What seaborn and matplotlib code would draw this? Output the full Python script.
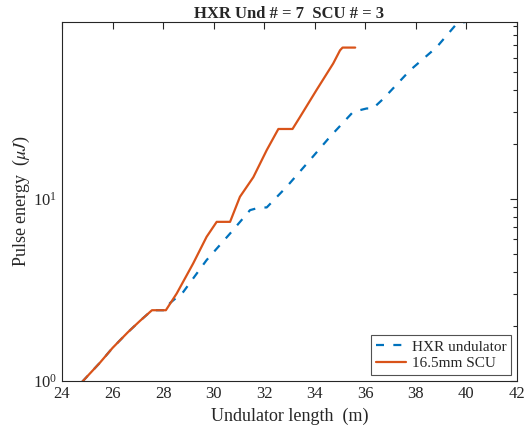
import numpy as np
import pandas as pd
import matplotlib
matplotlib.use("Agg")
import matplotlib.pyplot as plt
import seaborn as sns

# values
hxr_x = [24.8, 25.5, 26.0, 26.6, 27.1, 27.56, 28.11, 28.27, 28.8, 29.72, 30.65,
         31.44, 31.83, 32.1, 32.89, 33.81, 34.6, 35.52, 36.05, 36.3, 36.71,
         37.77, 38.82, 39.61, 40.0, 40.26]
hxr_y = [0.99, 1.26, 1.52, 1.85, 2.15, 2.45, 2.45, 2.68, 3.09, 4.62, 6.47,
         8.7, 9.0, 9.0, 11.7, 16.4, 22.0, 30.2, 31.5, 31.5, 35.6,
         51.1, 68.4, 91.9, 94.5, 94.5]

scu_x = [24.8, 25.5, 26.0, 26.6, 27.1, 27.56, 28.11, 28.54, 29.19, 29.72, 30.12,
         30.65, 31.04, 31.57, 32.1, 32.56, 33.12, 33.41, 34.07, 34.73, 35.0,
         35.1, 35.6]
scu_y = [0.99, 1.26, 1.52, 1.85, 2.15, 2.45, 2.45, 3.03, 4.43, 6.2, 7.5,
         7.5, 10.3, 13.2, 18.6, 24.3, 24.3, 28.2, 39.8, 55.7, 65.8,
         68.1, 68.1]

title = "HXR Und # = 7  SCU # = 3"

sns.set_style("white")
plt.rcParams["font.family"] = ["Liberation Serif", "DejaVu Serif"]
plt.rcParams["mathtext.fontset"] = "stix"

hxr = pd.DataFrame({"x": hxr_x, "y": hxr_y})
scu = pd.DataFrame({"x": scu_x, "y": scu_y})

fig = plt.figure(figsize=(5.27, 4.34), dpi=100)
ax = fig.add_axes([0.1176, 0.1221, 0.8634, 0.8279])

sns.lineplot(data=hxr, x="x", y="y", ax=ax, sort=False, estimator=None,
             color="#0072BD", linewidth=1.6, linestyle=(0, (3.6, 4.2)),
             label="HXR undulator")
sns.lineplot(data=scu, x="x", y="y", ax=ax, sort=False, estimator=None,
             color="#D95319", linewidth=1.6, label="16.5mm SCU")

ax.set_yscale("log")
ax.set_xlim(24, 42)
ax.set_ylim(1, 94.5)
ax.set_xticks(np.arange(24, 43, 2))
ax.set_xlabel("Undulator length  (m)", fontsize=13, color="#262626")
ax.set_ylabel(r"Pulse energy  ($\mu J$)", fontsize=13, color="#262626",
              labelpad=1)
ax.set_title(title, fontsize=12, fontweight="bold", pad=3)

ax.tick_params(which="both", direction="in", top=True, right=True,
               labelsize=12, colors="#262626")
ax.tick_params(which="major", length=5, width=0.8)
ax.tick_params(which="minor", length=3, width=0.8)
for s in ax.spines.values():
    s.set_visible(True)
    s.set_color("#262626")
    s.set_linewidth(0.8)

leg = ax.legend(loc="lower right", fontsize=11, frameon=True, fancybox=False,
                borderaxespad=0.4, handlelength=2.0, handletextpad=0.35,
                borderpad=0.3, labelspacing=0.2)
leg.get_frame().set_edgecolor("#262626")
leg.get_frame().set_linewidth(0.8)

fig.savefig("out.png", dpi=100)
